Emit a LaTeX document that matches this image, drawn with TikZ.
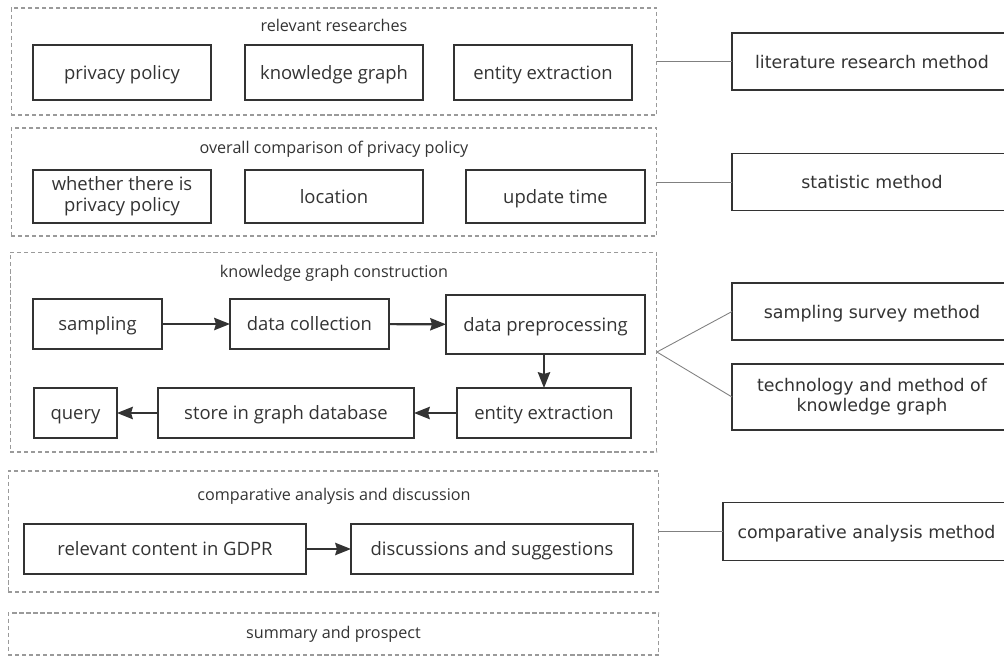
\documentclass[tikz,border=0pt]{standalone}
\usepackage{fontspec}
\setmainfont{Open Sans}
\newfontfamily\methodfont{DejaVu Sans}
\usetikzlibrary{arrows.meta}

\definecolor{inkgray}{HTML}{333333}
\definecolor{dashgray}{HTML}{9A9A9A}
\definecolor{linkgray}{HTML}{808080}

\begin{document}
\begin{tikzpicture}[%
  >={Stealth[length=9pt,width=7pt,inset=1pt]},
  x=0.02cm, y=-0.02cm,
  textbox/.style={draw=inkgray, line width=1.1pt, text=inkgray, outer sep=0pt,
    inner sep=1pt, align=center, font=\fontsize{10.5pt}{12pt}\selectfont},
  onerow/.style={text height=9.5pt, text depth=2pt},
  methodbox/.style={textbox, minimum width=5.6cm, font=\methodfont\fontsize{9.9pt}{11.5pt}\selectfont},
  group/.style={draw=dashgray, dashed, dash pattern=on 2.4pt off 1.6pt, line width=0.6pt,
    outer sep=0pt, inner sep=0pt},
  grouptitle/.style={text=inkgray, font=\fontsize{9.2pt}{11pt}\selectfont},
  flow/.style={->, draw=inkgray, line width=1.2pt},
  link/.style={draw=linkgray, line width=0.5pt}
]

  \useasboundingbox (0,0) rectangle (1004,657);

  % dashed groups
  \node[group, minimum width=12.92cm, minimum height=2.14cm] (g1) at (334,61.5) {};
  \node[group, minimum width=12.92cm, minimum height=2.16cm] (g2) at (334,182) {};
  \node[group, minimum width=12.94cm, minimum height=4.00cm] (g3) at (333.5,352) {};
  \node[group, minimum width=13.02cm, minimum height=2.42cm] (g4) at (333.5,531.5) {};
  \node[group, grouptitle, minimum width=13.02cm, minimum height=0.84cm] (g5) at (333.5,634) {summary and prospect};

  \node[grouptitle] (t1) at (334,25) {relevant researches};
  \node[grouptitle] (t2) at (334,149) {overall comparison of privacy policy};
  \node[grouptitle] (t3) at (334,273) {knowledge graph construction};
  \node[grouptitle] (t4) at (334,496) {comparative analysis and discussion};

  % relevant researches
  \node[textbox, onerow, minimum width=3.56cm, minimum height=1.1cm] (privacy) at (122,72.5) {privacy policy};
  \node[textbox, onerow, minimum width=3.56cm, minimum height=1.1cm] (kgraph) at (334,72.5) {knowledge graph};
  \node[textbox, onerow, minimum width=3.56cm, minimum height=1.1cm] (extract) at (543,72.5) {entity extraction};

  % overall comparison
  \node[textbox, minimum width=3.56cm, minimum height=1.06cm] (whether) at (122,196.5) {whether there is\\privacy policy};
  \node[textbox, onerow, minimum width=3.56cm, minimum height=1.06cm] (location) at (334,196.5) {location};
  \node[textbox, onerow, minimum width=3.58cm, minimum height=1.06cm] (update) at (555.5,196.5) {update time};

  % construction
  \node[textbox, onerow, minimum width=2.58cm, minimum height=1.0cm] (sampling) at (97.5,324) {sampling};
  \node[textbox, onerow, minimum width=3.18cm, minimum height=1.0cm] (collection) at (309.5,324) {data collection};
  \node[textbox, onerow, minimum width=3.98cm, minimum height=1.18cm] (preproc) at (545.5,324.5) {data preprocessing};
  \node[textbox, onerow, minimum width=3.48cm, minimum height=1.0cm] (entity) at (544,413) {entity extraction};
  \node[textbox, onerow, minimum width=5.12cm, minimum height=1.0cm] (store) at (286,413) {store in graph database};
  \node[textbox, onerow, minimum width=1.66cm, minimum height=1.0cm] (query) at (75.5,413) {query};

  \draw[flow] (sampling) -- (collection);
  \draw[flow] (collection) -- (preproc);
  \draw[flow] (preproc.south -| entity.north) -- (entity.north);
  \draw[flow] (entity) -- (store);
  \draw[flow] (store) -- (query);

  % comparison
  \node[textbox, onerow, minimum width=5.64cm, minimum height=1.0cm] (gdpr) at (165,549) {relevant content in GDPR};
  \node[textbox, onerow, minimum width=5.64cm, minimum height=1.0cm] (discuss) at (492,549) {discussions and suggestions};
  \draw[flow] (gdpr) -- (discuss);

  % methods
  \node[methodbox, onerow, minimum height=1.14cm] (lit) at (872,61.5) {literature research method};
  \node[methodbox, onerow, minimum height=1.14cm] (stat) at (872,182) {statistic method};
  \node[methodbox, onerow, minimum height=1.14cm] (survey) at (872,311.5) {sampling survey method};
  \node[methodbox, minimum height=1.32cm] (tech) at (872,397) {technology and method of\\knowledge graph};
  \node[methodbox, onerow, minimum width=5.74cm, minimum height=1.16cm] (comp) at (866.5,531.5) {comparative analysis method};

  \draw[link] (g1.east) -- (lit.west);
  \draw[link] (g2.east) -- (stat.west);
  \draw[link] (g3.east) -- (survey.west);
  \draw[link] (g3.east) -- (tech.west);
  \draw[link] (g4.east) -- (comp.west);

\end{tikzpicture}
\end{document}
